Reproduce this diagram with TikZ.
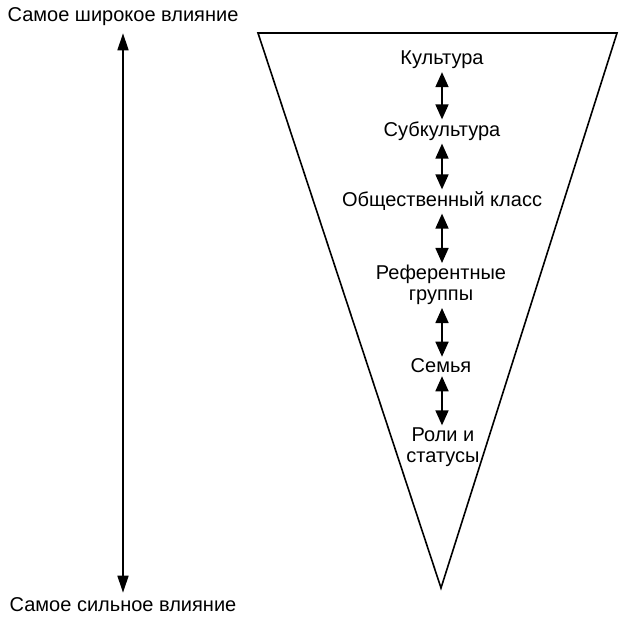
\documentclass[tikz,border=0pt]{standalone}
\usepackage{fontspec}
\setmainfont{Liberation Sans}
\usetikzlibrary{arrows.meta}
\begin{document}
\begin{tikzpicture}[x=1pt,y=-1pt,
  lbl/.style={inner sep=1pt, align=center, font=\fontsize{20}{21}\selectfont},
  link/.style={line width=1.7pt, {Triangle[width=13pt,length=15pt]}-{Triangle[width=13pt,length=15pt]}},
  axis/.style={line width=1.4pt, {Triangle[width=11pt,length=17pt]}-{Triangle[width=11pt,length=17pt]}},
  funnel/.style={line width=1.6pt, line join=miter}]
  \useasboundingbox (0,0) rectangle (620,617);

  % influence axis
  \node[lbl] (wide) at (123,17) {Самое широкое влияние};
  \node[lbl] (strong) at (123,605) {Самое сильное влияние};
  \draw[axis, shorten <=6pt, shorten >=4pt] (wide.south) -- (strong.north);

  % funnel outline
  \coordinate (tl) at (258,33);
  \coordinate (tr) at (617,33);
  \coordinate (tip) at (441,588);
  \draw[funnel] (tl) -- (tr) -- (tip) -- cycle;

  % levels of influence
  \node[lbl] (cult) at (442,60) {Культура};
  \node[lbl] (sub) at (442,131) {Субкультура};
  \node[lbl] (cls) at (442,201) {Общественный класс};
  \node[lbl] (ref) at (441,285) {Референтные\\группы};
  \node[lbl] (fam) at (441,366) {Семья};
  \node[lbl] (role) at (443,447) {Роли и\\статусы};

  \draw[link, shorten <=2pt, shorten >=1pt] (cult.south -| 442,0) -- (sub.north -| 442,0);
  \draw[link, shorten <=2pt, shorten >=1pt] (sub.south -| 442,0) -- (cls.north -| 442,0);
  \draw[link, shorten <=2pt, shorten >=1pt] (cls.south -| 442,0) -- (ref.north -| 442,0);
  \draw[link, shorten <=2pt, shorten >=1pt] (ref.south -| 442,0) -- (fam.north -| 442,0);
  \draw[link, shorten <=2pt, shorten >=1pt] (fam.south -| 442,0) -- (role.north -| 442,0);
\end{tikzpicture}
\end{document}
